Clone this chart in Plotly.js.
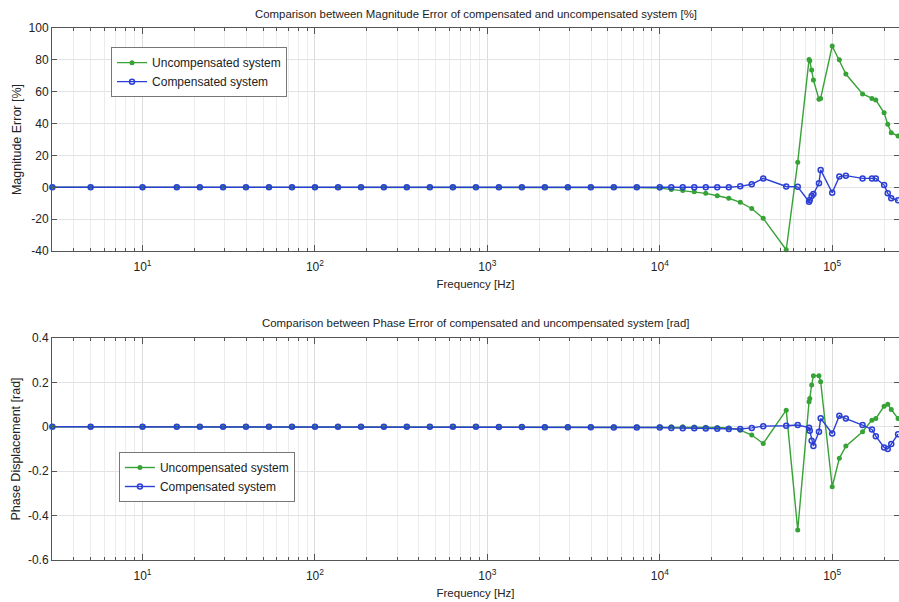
<!DOCTYPE html>
<html>
<head>
<meta charset="utf-8">
<script src="https://cdn.plot.ly/plotly-3.0.1.min.js"></script>
<style>html,body{margin:0;padding:0;background:#fff;}#chart{width:899px;height:602px;}</style>
</head>
<body>
<div id="chart"></div>
<script>
// Frequency points [Hz]
var freq = [3, 5, 10, 15.8, 21.5, 29.3, 39.8, 54.1, 73.6, 100, 136, 185, 251, 341, 464, 631, 858,
  1166, 1585, 2154, 2929, 3981, 5412, 7356, 10000, 11660, 13590, 15850, 18480, 21540, 25120,
  29290, 34150, 39810, 54120, 63100, 73400, 74100, 76000, 77800, 83800, 85700, 100000, 110000,
  120000, 150000, 170000, 179000, 200000, 210000, 220000, 241000];

// Magnitude error [%]
var magUncomp = [0, 0, 0, 0, 0, 0, 0, 0, 0, 0, 0, 0, 0, 0, 0, 0, 0,
  0, 0, 0, 0, 0, -0.1, -0.2, -0.5, -1.4, -2.0, -2.8, -3.8, -5.3, -6.9,
  -9.4, -13.3, -19.5, -39.2, 15.8, 80.3, 79.5, 73.6, 67.4, 55.2, 55.8, 88.7, 80.0,
  71.1, 58.6, 55.8, 54.8, 46.8, 39.5, 34.3, 32.2];
var magComp = [0, 0, 0, 0, 0, 0, 0, 0, 0, 0, 0, 0, 0, 0, 0, 0, 0,
  0, 0, 0, 0, 0, 0, 0, 0, 0, 0, 0, 0, 0, 0,
  0.6, 1.9, 5.6, 0.5, 0.3, -9.1, -8.0, -5.5, -4.2, 2.5, 10.9, -3.4, 6.7,
  7.3, 5.6, 5.6, 5.6, 1.4, -3.8, -6.9, -8.2];

// Phase displacement [rad]
var phUncomp = [0, 0, 0, 0, 0, 0, 0, 0, 0, 0, 0, 0, 0, 0, 0, 0, 0,
  0, 0, 0, 0, 0, 0, 0, 0, 0, 0, -0.001, -0.002, -0.003, -0.005,
  -0.015, -0.037, -0.075, 0.075, -0.465, 0.113, 0.128, 0.188, 0.23, 0.23, 0.203, -0.27, -0.142,
  -0.087, -0.022, 0.03, 0.037, 0.093, 0.102, 0.078, 0.037];
var phComp = [0, 0, 0, 0, 0, 0, 0, 0, 0, 0, 0, 0, 0, 0, 0, 0, 0,
  -0.001, -0.001, -0.002, -0.002, -0.002, -0.003, -0.003, -0.003, -0.005, -0.006, -0.007, -0.008, -0.009, -0.01,
  -0.01, -0.005, 0.003, 0.005, 0.008, -0.004, -0.018, -0.063, -0.087, -0.022, 0.038, -0.03, 0.05,
  0.037, 0.008, -0.012, -0.042, -0.093, -0.1, -0.078, -0.033];

var seriesNames = ['Uncompensated system', 'Compensated system'];
var xTickVals = [10, 100, 1000, 10000, 100000];
var xTickText = ['10<sup>1</sup>', '10<sup>2</sup>', '10<sup>3</sup>', '10<sup>4</sup>', '10<sup>5</sup>'];
var magTickVals = [-40, -20, 0, 20, 40, 60, 80, 100];
var magTickText = ['-40', '-20', '0', '20', '40', '60', '80', '100'];
var phTickVals = [-0.6, -0.4, -0.2, 0, 0.2, 0.4];
var phTickText = ['-0.6', '-0.4', '-0.2', '0', '0.2', '0.4'];

var GREEN = '#37a236';
var BLUE = '#2b3fd4';

var minorVals = [];
[1, 10, 100, 1000, 10000, 100000].forEach(function (d) {
  for (var m = 2; m <= 9; m++) minorVals.push(d * m);
});

function greenTrace(y, xa, ya, leg) {
  return {x: freq, y: y, xaxis: xa, yaxis: ya, legend: leg, name: seriesNames[0], type: 'scatter',
    mode: 'lines+markers', cliponaxis: false,
    line: {color: GREEN, width: 1.4},
    marker: {color: GREEN, size: 5, symbol: 'circle'}};
}
function blueTrace(y, xa, ya, leg) {
  return {x: freq, y: y, xaxis: xa, yaxis: ya, legend: leg, name: seriesNames[1], type: 'scatter',
    mode: 'lines+markers', cliponaxis: false,
    line: {color: BLUE, width: 1.4},
    marker: {color: BLUE, size: 5, symbol: 'circle-open', line: {color: BLUE, width: 1.5}}};
}

var data = [
  greenTrace(magUncomp, 'x', 'y', 'legend'),
  blueTrace(magComp, 'x', 'y', 'legend'),
  greenTrace(phUncomp, 'x2', 'y2', 'legend2'),
  blueTrace(phComp, 'x2', 'y2', 'legend2')
];

var FONT = 'Liberation Sans, Arial, sans-serif';
function xAxis(anchor) {
  return {
    type: 'log', anchor: anchor, domain: [0, 1],
    range: [Math.log10(2.985), Math.log10(244000)],
    tickmode: 'array', tickvals: xTickVals, ticktext: xTickText,
    ticks: 'inside', ticklen: 6, tickcolor: '#555', tickwidth: 1,
    showline: true, linecolor: '#555', linewidth: 1, mirror: 'ticks',
    showgrid: true, gridcolor: '#dcdcdc', gridwidth: 1, zeroline: false,
    minor: {tickmode: 'array', tickvals: minorVals, ticks: 'inside', ticklen: 3, tickcolor: '#555',
      showgrid: true, gridcolor: '#ececec', gridwidth: 1},
    ticklabelstandoff: 5,
    tickfont: {family: FONT, size: 12, color: '#222'},
    title: {text: 'Frequency [Hz]', font: {family: FONT, size: 11.5, color: '#222'}, standoff: 6}
  };
}
function yAxis(anchor, domain, range, tv, tt, title) {
  return {
    anchor: anchor, domain: domain, range: range,
    tickmode: 'array', tickvals: tv, ticktext: tt,
    ticks: 'inside', ticklen: 5, tickcolor: '#555',
    showline: true, linecolor: '#555', linewidth: 1, mirror: 'ticks',
    showgrid: true, gridcolor: '#e2e2e2', zeroline: false,
    tickfont: {family: FONT, size: 12, color: '#222'},
    title: {text: title, font: {family: FONT, size: 12.5, color: '#222'}, standoff: 4}
  };
}

var legendCommon = {
  bgcolor: '#ffffff', bordercolor: '#777', borderwidth: 1,
  font: {family: FONT, size: 12, color: '#222'},
  xanchor: 'left', yanchor: 'top', tracegroupgap: 0, itemwidth: 30
};

var layout = {
  width: 899, height: 602,
  margin: {l: 52, r: 0, t: 28, b: 42, pad: 0},
  paper_bgcolor: '#ffffff', plot_bgcolor: '#ffffff',
  font: {family: FONT, size: 11, color: '#222'},
  xaxis: xAxis('y'),
  yaxis: yAxis('x', [0.5808, 1], [-40, 100], magTickVals, magTickText, 'Magnitude Error [%]'),
  xaxis2: xAxis('y2'),
  yaxis2: yAxis('x2', [0, 0.4173], [-0.6, 0.4], phTickVals, phTickText, 'Phase Displacement [rad]'),
  legend: Object.assign({x: 0.0697, y: 0.964}, legendCommon),
  legend2: Object.assign({x: 0.079, y: 0.203}, legendCommon),
  annotations: [
    {text: 'Comparison between Magnitude Error of compensated and uncompensated system [%]',
      xref: 'paper', yref: 'paper', x: 0.5, y: 1.0263, xanchor: 'center', yanchor: 'middle',
      showarrow: false, font: {family: FONT, size: 11.4, color: '#222'}},
    {text: 'Comparison between Phase Error of compensated and uncompensated system [rad]',
      xref: 'paper', yref: 'paper', x: 0.5, y: 0.4455, xanchor: 'center', yanchor: 'middle',
      showarrow: false, font: {family: FONT, size: 11.4, color: '#222'}}
  ],
  showlegend: true
};

Plotly.newPlot('chart', data, layout, {staticPlot: true, displayModeBar: false});
</script>
</body>
</html>
